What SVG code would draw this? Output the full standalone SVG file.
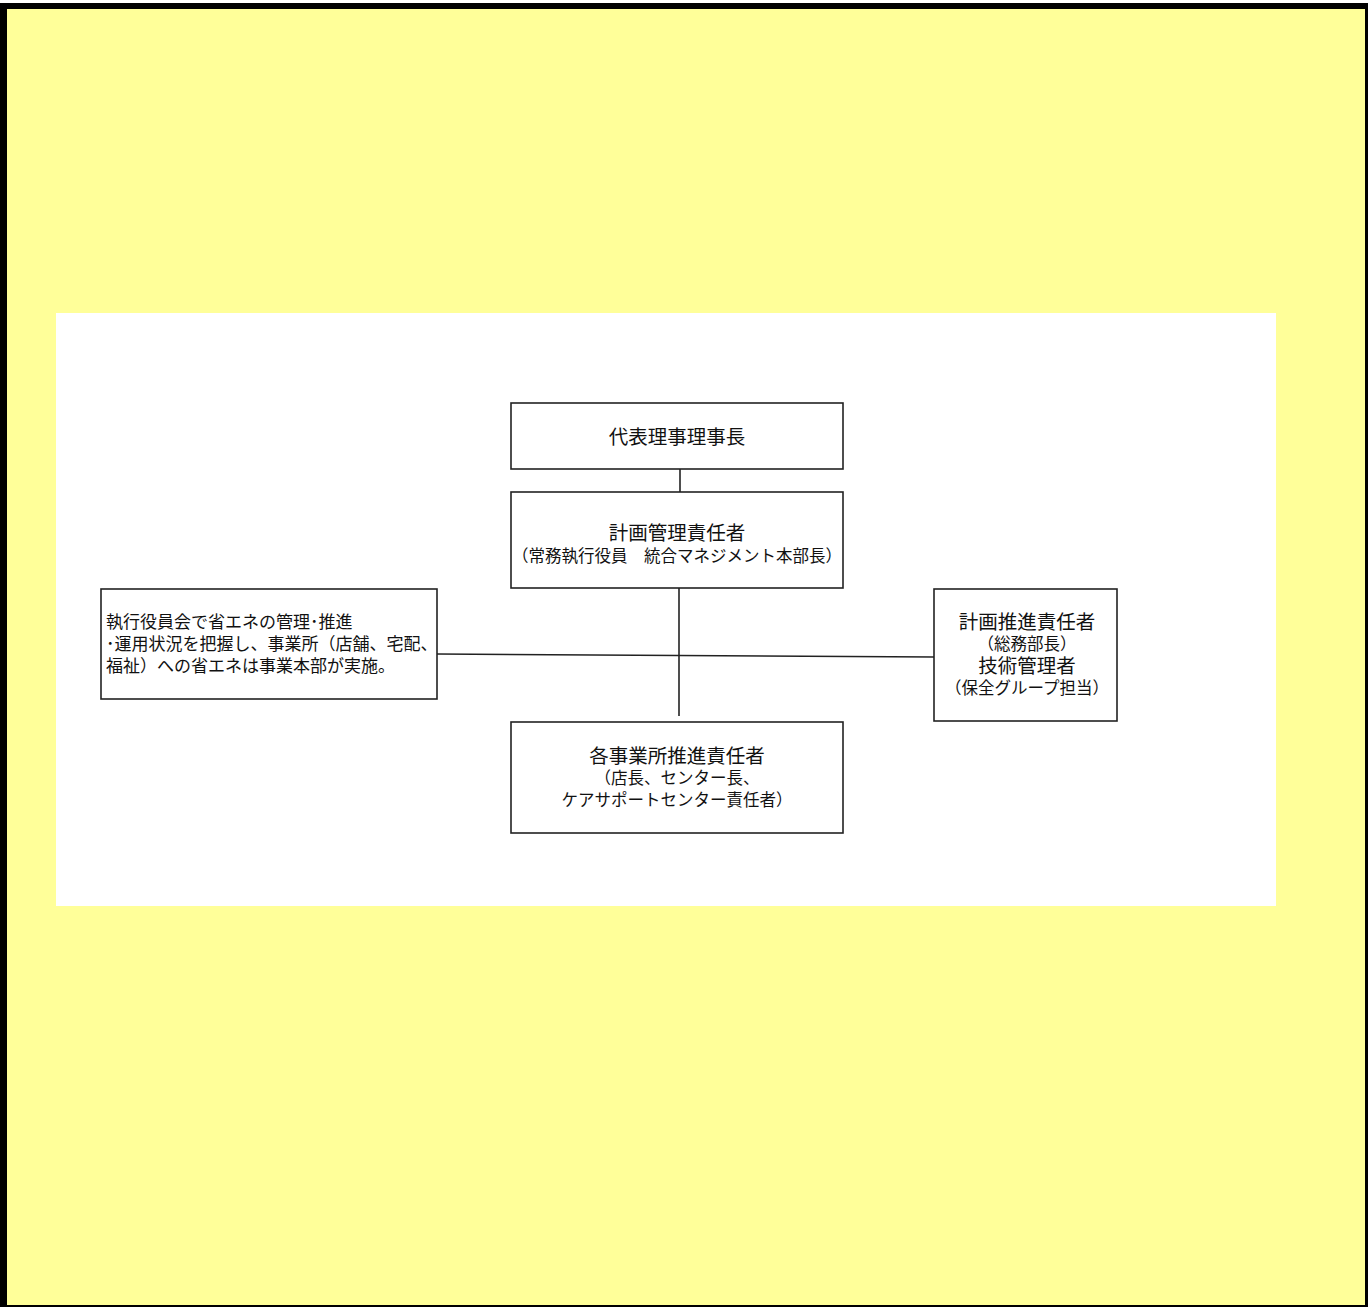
<svg xmlns="http://www.w3.org/2000/svg" width="1368" height="1307" viewBox="0 0 1368 1307">
<style>
.box{fill:#fff;stroke:#222;stroke-width:1.6}
.ln{stroke:#222;stroke-width:1.6;fill:none}
text{font-family:"Noto Sans CJK JP","Noto Sans CJK SC",sans-serif;fill:#111}
.t{font-size:19.5px;text-anchor:middle}
.s{font-size:16.5px;text-anchor:middle}
.l{font-size:17px}
</style>
<rect x="0" y="3" width="1368" height="1304" fill="#000"/>
<rect x="7" y="9" width="1358" height="1296" fill="#ffff99"/>
<rect x="56" y="313" width="1220" height="593" fill="#fff"/>
<g id="connectors">
<line class="ln" x1="680" y1="469" x2="680" y2="492"/>
<line class="ln" x1="679" y1="588" x2="679" y2="716"/>
<line class="ln" x1="437" y1="654" x2="934" y2="657"/>
</g>
<g id="n1">
<rect class="box" x="511" y="403" width="332" height="66"/>
<text class="t" x="677" y="444">代表理事理事長</text>
</g>
<g id="n2">
<rect class="box" x="511" y="492" width="332" height="96"/>
<text class="t" x="677" y="540">計画管理責任者</text>
<text class="s" x="677" y="562">（常務執行役員　統合マネジメント本部長）</text>
</g>
<g id="n3">
<rect class="box" x="101" y="589" width="336" height="110"/>
<text class="l" x="106" y="628">執行役員会で省エネの管理･推進</text>
<text class="l" x="106" y="650">･運用状況を把握し、事業所（店舗、宅配、</text>
<text class="l" x="106" y="672">福祉）への省エネは事業本部が実施。</text>
</g>
<g id="n4">
<rect class="box" x="934" y="589" width="183" height="132"/>
<text class="t" x="1027" y="629">計画推進責任者</text>
<text class="s" x="1027" y="650">（総務部長）</text>
<text class="t" x="1027" y="673">技術管理者</text>
<text class="s" x="1027" y="694">（保全グループ担当）</text>
</g>
<g id="n5">
<rect class="box" x="511" y="722" width="332" height="111"/>
<text class="t" x="677" y="763">各事業所推進責任者</text>
<text class="s" x="677" y="784">（店長、センター長、</text>
<text class="s" x="677" y="806">ケアサポートセンター責任者）</text>
</g>
</svg>
